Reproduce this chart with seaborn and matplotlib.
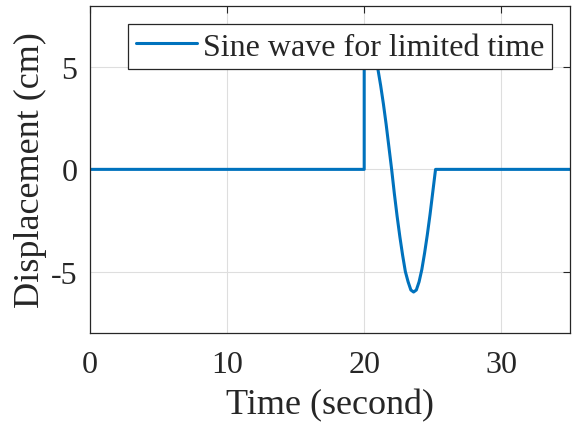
import matplotlib
matplotlib.use("Agg")
import matplotlib.pyplot as plt
import seaborn as sns
import pandas as pd

time_s = [0.0, 20.0, 20.0, 20.2, 20.4, 20.6, 20.8, 21.0, 21.2, 21.4, 21.6, 21.8, 22.0,
          22.2, 22.4, 22.6, 22.8, 23.0, 23.2, 23.4, 23.6, 23.8, 24.0, 24.2, 24.4,
          24.6, 24.8, 25.0, 25.2, 35.0]
displacement_cm = [0.0, 0.0, 5.5, 5.9, 6.0, 5.9, 5.5, 4.9, 4.1, 3.2, 2.2, 1.1, 0.0,
                   -1.2, -2.3, -3.3, -4.2, -5.0, -5.5, -5.9, -6.0, -5.9, -5.5, -4.9, -4.1,
                   -3.2, -2.2, -1.1, 0.0, 0.0]
x_ticks = [0, 10, 20, 30]
y_ticks = [-5, 0, 5]
series_label = "Sine wave for limited time"

sns.set_style("white")
plt.rcParams["font.family"] = ["Liberation Serif", "DejaVu Serif"]
plt.rcParams["axes.unicode_minus"] = False

df = pd.DataFrame({"t": time_s, "d": displacement_cm})

fig = plt.figure(figsize=(5.72, 4.27), dpi=100)
ax = fig.add_axes([0.157, 0.218, 0.8395, 0.766])

sns.lineplot(data=df, x="t", y="d", ax=ax, estimator=None, sort=False,
             color="#0072BD", linewidth=2.2, label=series_label)

ax.set_xlim(0, 35)
ax.set_ylim(-8, 8)
ax.set_xticks(x_ticks)
ax.set_yticks(y_ticks)
ax.set_xticklabels([str(v) for v in x_ticks])
ax.set_yticklabels([str(v) for v in y_ticks])
ax.grid(True, color="#dedede", linewidth=0.8)
ax.set_axisbelow(True)
ax.tick_params(direction="in", length=5, width=0.8, colors="#262626",
               labelsize=23, top=True, right=True, labelcolor="#262626")
ax.tick_params(axis="x", pad=12)
ax.tick_params(axis="y", pad=9)
for s in ax.spines.values():
    s.set_color("#262626")
    s.set_linewidth(0.9)

ax.set_xlabel("Time (second)", fontsize=26, color="#262626", labelpad=7)
ax.set_ylabel("Displacement (cm)", fontsize=26, color="#262626", labelpad=3)

leg = ax.legend(loc="upper right", bbox_to_anchor=(0.963, 0.943), fontsize=23,
                frameon=True, fancybox=False, edgecolor="#262626", framealpha=1,
                borderpad=0.24, handlelength=1.9, handletextpad=0.2, borderaxespad=0)
leg.get_frame().set_linewidth(0.9)

fig.savefig("out.png", dpi=100)
